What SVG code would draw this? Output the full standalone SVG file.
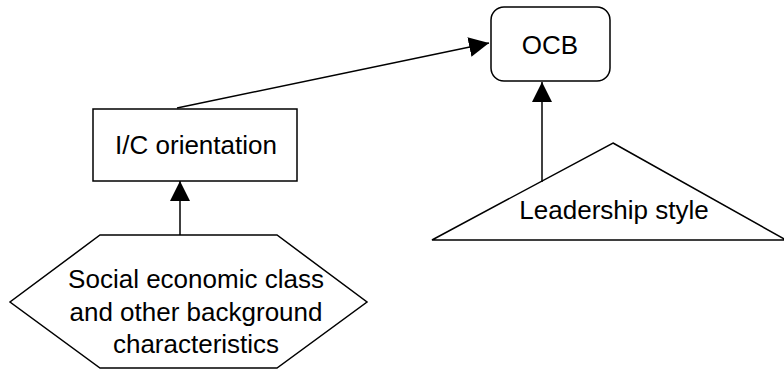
<svg xmlns="http://www.w3.org/2000/svg" width="784" height="372" viewBox="0 0 784 372">
<style>
.s{fill:#fff;stroke:#000;stroke-width:1.5}
.t{font-family:"Liberation Sans",Arial,sans-serif;font-size:26px;fill:#000;text-anchor:middle}
.c{stroke:#000;stroke-width:1.5;fill:none}
</style>
<defs>
<marker id="a" markerUnits="userSpaceOnUse" markerWidth="20" markerHeight="20" refX="20" refY="10" orient="auto" viewBox="0 0 20 20">
<path d="M0,0 L20,10 L0,20 z" fill="#000"/>
</marker>
</defs>
<g id="ocb">
<rect class="s" x="491" y="7" width="119" height="74" rx="13"/>
<text class="t" x="550" y="54">OCB</text>
</g>
<g id="ic">
<rect class="s" x="93" y="109" width="204" height="72"/>
<text class="t" x="196" y="154">I/C orientation</text>
</g>
<g id="social">
<polygon class="s" points="100,235 277,235 367,302 277,368 100,368 10,302"/>
<text class="t" x="196" y="288">Social economic class</text>
<text class="t" x="196" y="321">and other background</text>
<text class="t" x="196" y="353">characteristics</text>
</g>
<g id="leadership">
<polygon class="s" points="613,143 786,240 432,240"/>
<text class="t" x="614" y="219">Leadership style</text>
</g>
<g id="connectors">
<line class="c" x1="177" y1="108" x2="489" y2="43" marker-end="url(#a)"/>
<line class="c" x1="180" y1="235" x2="180" y2="181" marker-end="url(#a)"/>
<line class="c" x1="542" y1="182" x2="542" y2="82" marker-end="url(#a)"/>
</g>
</svg>
